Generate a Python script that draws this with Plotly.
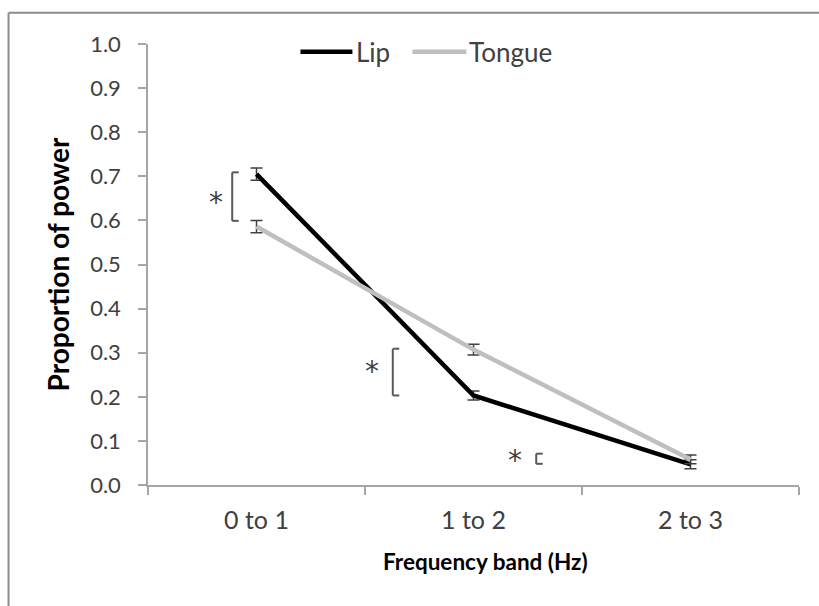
import plotly.graph_objects as go

# Frequency bands and mean proportion of power per articulator
bands = ["0 to 1", "1 to 2", "2 to 3"]
lip = [0.705, 0.203, 0.047]
lip_err = [0.014, 0.010, 0.010]
tongue = [0.586, 0.307, 0.058]
tongue_err = [0.014, 0.012, 0.010]

# Significance brackets: (x position, lower value, upper value, star x, star y)
sig_x = [-0.112, 0.628, 1.289]
sig_low = [0.599, 0.203, 0.048]
sig_high = [0.709, 0.309, 0.071]
star_x = [-0.187, 0.532, 1.192]
star_y = [0.641, 0.258, 0.055]

FONT = "Lato"
AXIS_GREY = "#A6A6A6"
TEXT_GREY = "#404040"

fig = go.Figure()
fig.add_trace(go.Scatter(
    x=bands, y=lip, mode="lines", name="Lip",
    line=dict(color="black", width=4.5),
    error_y=dict(type="data", array=lip_err, color=TEXT_GREY, thickness=1.5, width=6),
))
fig.add_trace(go.Scatter(
    x=bands, y=tongue, mode="lines", name="Tongue",
    line=dict(color="#BFBFBF", width=4.5),
    error_y=dict(type="data", array=tongue_err, color=TEXT_GREY, thickness=1.5, width=6),
))

shapes = []
arm = 0.03
for x0, lo, hi in zip(sig_x, sig_low, sig_high):
    style = dict(type="line", xref="x", yref="y", line=dict(color="#595959", width=2))
    shapes.append(dict(x0=x0, x1=x0, y0=lo, y1=hi, **style))
    shapes.append(dict(x0=x0, x1=x0 + arm, y0=lo, y1=lo, **style))
    shapes.append(dict(x0=x0, x1=x0 + arm, y0=hi, y1=hi, **style))

annotations = []
for sx, sy in zip(star_x, star_y):
    annotations.append(dict(x=sx, y=sy, xref="x", yref="y", text="*", showarrow=False,
                            font=dict(family="DejaVu Sans", size=28, color=TEXT_GREY)))

# Pixel-to-paper helpers for items placed around the plot area
px0, pw = 147.5, 651.2
py0, ph = 485.3, 441.0
def paper_x(p):
    return (p - px0) / pw
def paper_y(p):
    return (py0 - p) / ph

# Hand-drawn legend at the top of the plot
legend_items = [("Lip", "black", 300, 352, 354), ("Tongue", "#BFBFBF", 412, 466, 467)]
for name, color, l0, l1, tx in legend_items:
    shapes.append(dict(type="line", xref="paper", yref="paper",
                       x0=paper_x(l0), x1=paper_x(l1), y0=paper_y(52), y1=paper_y(52),
                       line=dict(color=color, width=4.5)))
    annotations.append(dict(x=paper_x(tx), y=paper_y(52), xref="paper", yref="paper",
                            text=name, showarrow=False, xanchor="left", yanchor="middle",
                            font=dict(family=FONT, size=26, color=TEXT_GREY)))

# X axis title, centred under the chart area
annotations.append(dict(x=paper_x(485), y=paper_y(562), xref="paper", yref="paper",
                        text="<b>Frequency band (Hz)</b>", showarrow=False,
                        xanchor="center", yanchor="middle",
                        font=dict(family=FONT, size=22.5, color="black")))

# Chart-area frame (left and top edges)
frame_style = dict(type="line", xref="paper", yref="paper", line=dict(color="#8C8C8C", width=2))
shapes.append(dict(x0=paper_x(8), x1=paper_x(8), y0=paper_y(13), y1=paper_y(620), **frame_style))
shapes.append(dict(x0=paper_x(8), x1=paper_x(830), y0=paper_y(13), y1=paper_y(13), **frame_style))

fig.update_layout(
    width=819, height=606,
    margin=dict(l=147.5, r=20.3, t=44.3, b=120.7),
    paper_bgcolor="white", plot_bgcolor="white",
    showlegend=False,
    shapes=shapes,
    annotations=annotations,
    font=dict(family=FONT, color=TEXT_GREY, size=22),
)
fig.update_xaxes(
    type="category", range=[-0.5, 2.5],
    showline=True, linecolor=AXIS_GREY, linewidth=1.5,
    ticks="outside", tickson="boundaries", ticklen=8, tickcolor=AXIS_GREY, tickwidth=1.5,
    showgrid=False, zeroline=False,
    tickfont=dict(family=FONT, size=25, color=TEXT_GREY),
    ticklabelstandoff=12,
)
fig.update_yaxes(
    range=[0, 1.0], dtick=0.1, tickformat=".1f",
    showline=True, linecolor=AXIS_GREY, linewidth=1.5,
    ticks="outside", ticklen=8, tickcolor=AXIS_GREY, tickwidth=1.5,
    showgrid=False, zeroline=False,
    tickfont=dict(family=FONT, size=22, color=TEXT_GREY),
    ticklabelstandoff=13,
    title=dict(text="<b>Proportion of power</b>", font=dict(family=FONT, size=28, color="black"),
               standoff=12),
)

fig.write_html("out.html")
